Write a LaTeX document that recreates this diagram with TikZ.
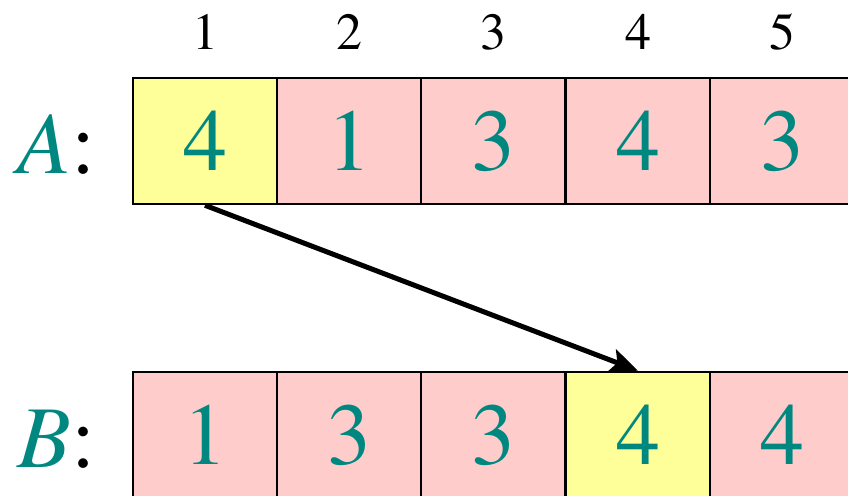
\documentclass[tikz,border=0pt]{standalone}
\usepackage{fontspec}
\setmainfont{TeX Gyre Termes}
\usetikzlibrary{arrows.meta}
\definecolor{tealtxt}{RGB}{0,136,128}
\definecolor{cellpink}{RGB}{255,204,204}
\definecolor{cellyellow}{RGB}{255,255,153}
\tikzset{
  cell/.style={draw=black, line width=2.6pt, minimum width=144pt, minimum height=126pt,
    inner sep=0pt, text=tealtxt, font=\rmfamily\fontsize{88}{88}\selectfont},
  pinkcell/.style={cell, fill=cellpink},
  yellowcell/.style={cell, fill=cellyellow},
  idx/.style={font=\rmfamily\fontsize{52}{52}\selectfont, text=black, inner sep=0pt},
  rowlabel/.style={font=\rmfamily\fontsize{88}{88}\selectfont, inner sep=0pt, anchor=base},
  moveline/.style={line width=5pt, -{Stealth[length=28pt,width=24pt,inset=6pt]}}
}
\begin{document}
\begin{tikzpicture}[x=1pt,y=-1pt]
\useasboundingbox (0,0) rectangle (848,495);
\clip (0,0) rectangle (848,495);
% index labels
\foreach \i/\x in {1/205,2/349,3/493,4/638,5/782}{
  \node[idx] (i\i) at (\x,32) {\i};
}
% row A
\node[yellowcell] (a1) at (205,141) {4};
\node[pinkcell] (a2) at (349,141) {1};
\node[pinkcell] (a3) at (493,141) {3};
\node[pinkcell] (a4) at (638,141) {4};
\node[pinkcell] (a5) at (782,141) {3};
% row B
\node[pinkcell] (b1) at (205,435) {1};
\node[pinkcell] (b2) at (349,435) {3};
\node[pinkcell] (b3) at (493,435) {3};
\node[yellowcell] (b4) at (638,435) {4};
\node[pinkcell] (b5) at (782,435) {4};
% row labels
\node[rowlabel] (la) at (57,173) {{\color{tealtxt}\textit{A}}:};
\node[rowlabel] (lb) at (57,467) {{\color{tealtxt}\textit{B}}:};
% arrow
\draw[moveline] (a1.south) -- (b4.north);
\end{tikzpicture}
\end{document}
